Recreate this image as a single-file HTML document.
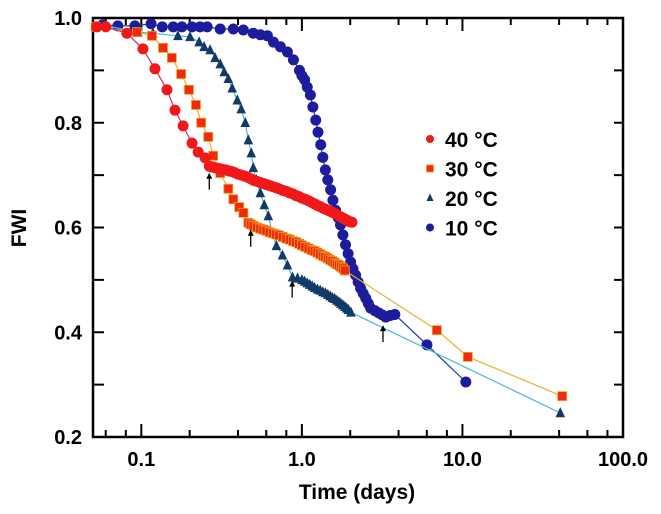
<!DOCTYPE html>
<html><head><meta charset="utf-8"><style>
body{margin:0;background:#fff}
svg{display:block}
text{font-family:"Liberation Sans",Arial,sans-serif;fill:#000}
</style></head><body>
<svg id="chart" width="661" height="514" xmlns="http://www.w3.org/2000/svg"></svg>
<script>
const xMin=0.05,xMax=100,yMin=0.2,yMax=1.0;
const yTicks=[0.2,0.4,0.6,0.8,1.0];
const yTickLabels=["0.2","0.4","0.6","0.8","1.0"];
const xMajor=[0.1,1,10,100];
const xTickLabels=["0.1","1.0","10.0","100.0"];
const x40=[0.0528,0.0601,0.0813,0.1023,0.1216,0.1445,0.162,0.182,0.207,0.226,0.2497,0.265,0.273,0.28,0.29,0.30,0.31,0.32,0.335,0.35,0.365,0.38,0.40,0.42,0.44,0.46,0.48,0.50,0.525,0.55,0.575,0.60,0.63,0.66,0.69,0.72,0.76,0.80,0.84,0.88,0.92,0.96,1.0,1.05,1.10,1.15,1.20,1.25,1.30,1.35,1.40,1.45,1.50,1.55,1.60,1.65,1.70,1.75,1.80,1.85,1.90,1.95,2.0,2.05];
const y40=[0.983,0.983,0.971,0.941,0.903,0.863,0.824,0.794,0.761,0.744,0.733,0.717,0.716,0.715,0.714,0.713,0.712,0.711,0.710,0.708,0.707,0.705,0.702,0.700,0.698,0.696,0.693,0.690,0.688,0.686,0.684,0.682,0.680,0.678,0.676,0.674,0.671,0.669,0.666,0.664,0.661,0.659,0.656,0.654,0.651,0.648,0.645,0.642,0.640,0.637,0.635,0.633,0.631,0.629,0.627,0.625,0.622,0.620,0.618,0.616,0.614,0.612,0.611,0.610];
const x30=[0.052,0.0939,0.1165,0.1365,0.155,0.177,0.198,0.219,0.236,0.261,0.28,0.31,0.348,0.374,0.407,0.432,0.464,0.48,0.50,0.525,0.55,0.575,0.60,0.63,0.66,0.69,0.72,0.76,0.80,0.84,0.88,0.92,0.96,1.0,1.05,1.10,1.15,1.20,1.25,1.30,1.35,1.40,1.45,1.50,1.55,1.60,1.65,1.70,1.75,1.80,1.85,6.93,10.8,41.8];
const y30=[0.983,0.973,0.966,0.943,0.924,0.893,0.863,0.834,0.800,0.773,0.737,0.704,0.674,0.654,0.639,0.628,0.609,0.606,0.603,0.600,0.598,0.596,0.594,0.591,0.589,0.587,0.585,0.582,0.579,0.577,0.574,0.572,0.569,0.566,0.563,0.560,0.557,0.555,0.552,0.549,0.546,0.544,0.541,0.538,0.536,0.533,0.530,0.528,0.525,0.522,0.518,0.404,0.353,0.278];
const x20=[0.0568,0.0953,0.118,0.169,0.201,0.229,0.246,0.268,0.288,0.31,0.328,0.348,0.368,0.396,0.419,0.444,0.464,0.484,0.498,0.52,0.551,0.583,0.618,0.655,0.694,0.757,0.813,0.874,0.939,1.0,1.04,1.08,1.12,1.16,1.20,1.25,1.30,1.35,1.40,1.45,1.50,1.55,1.60,1.65,1.70,1.75,1.80,1.85,1.90,1.95,2.02,40.7];
const y20=[0.987,0.973,0.971,0.966,0.964,0.954,0.945,0.939,0.924,0.912,0.897,0.884,0.866,0.843,0.826,0.800,0.767,0.742,0.714,0.691,0.666,0.643,0.622,0.589,0.565,0.547,0.528,0.505,0.503,0.500,0.497,0.494,0.491,0.488,0.485,0.482,0.480,0.477,0.475,0.472,0.469,0.466,0.464,0.461,0.458,0.455,0.452,0.449,0.446,0.443,0.438,0.246];
const x10=[0.0576,0.0714,0.0912,0.115,0.135,0.158,0.179,0.207,0.232,0.257,0.31,0.374,0.432,0.498,0.551,0.61,0.665,0.735,0.813,0.886,0.966,1.0,1.04,1.08,1.13,1.17,1.22,1.26,1.31,1.35,1.40,1.45,1.51,1.56,1.62,1.68,1.74,1.80,1.87,1.94,2.01,2.08,2.16,2.24,2.32,2.41,2.50,2.59,2.68,2.85,3.01,3.17,3.33,3.55,3.79,6.01,10.5];
const y10=[0.987,0.985,0.985,0.989,0.983,0.983,0.983,0.983,0.983,0.983,0.979,0.979,0.977,0.971,0.968,0.966,0.954,0.945,0.935,0.920,0.900,0.890,0.882,0.868,0.853,0.830,0.805,0.782,0.758,0.734,0.710,0.691,0.672,0.652,0.633,0.619,0.605,0.586,0.567,0.550,0.534,0.521,0.509,0.496,0.484,0.474,0.465,0.455,0.446,0.441,0.437,0.433,0.429,0.432,0.434,0.376,0.305];
const arrowX=[0.265,0.48,0.87,3.2];
const arrowY=[0.718,0.609,0.512,0.427];

const L=93,R=623,T=18,B=437;
const sx=v=>L+(Math.log10(v)-Math.log10(xMin))/(Math.log10(xMax)-Math.log10(xMin))*(R-L);
const sy=v=>B-(v-yMin)/(yMax-yMin)*(B-T);
const svg=document.getElementById('chart');
const NS="http://www.w3.org/2000/svg";
function mk(tag,attrs,parent){const e=document.createElementNS(NS,tag);for(const k in attrs)e.setAttribute(k,attrs[k]);(parent||svg).appendChild(e);return e;}

const frame=mk('rect',{x:L,y:T,width:R-L,height:B-T,fill:'none',stroke:'#000','stroke-width':2.5});



yTicks.forEach((v,i)=>{
  const y=sy(v);
  const t=mk('line',{x1:L,x2:L+11,y1:y,y2:y,stroke:'#000','stroke-width':2});
  
  
  const t2=mk('line',{x1:R-9,x2:R,y1:y,y2:y,stroke:'#000','stroke-width':2});
  
  
  const lb=mk('text',{x:L-11,y:y+7,'text-anchor':'end','font-size':20,'font-weight':'bold'});
  lb.textContent=yTickLabels[i];
  
  
});
[0.3,0.5,0.7,0.9].forEach(v=>{
  const y=sy(v);
  const t=mk('line',{x1:L,x2:L+11,y1:y,y2:y,stroke:'#000','stroke-width':2});
  
  
  const t2=mk('line',{x1:R-9,x2:R,y1:y,y2:y,stroke:'#000','stroke-width':2});
  
  
});
const minors=[];
[0.01,0.1,1,10].forEach(d=>[2,4,6,8].forEach(m=>{const v=d*m;if(v>xMin&&v<xMax)minors.push(v);}));
minors.forEach(v=>{
  const x=sx(v);
  const a=mk('line',{x1:x,x2:x,y1:B,y2:B-7,stroke:'#000','stroke-width':2});
  
  
  const b=mk('line',{x1:x,x2:x,y1:T,y2:T+7,stroke:'#000','stroke-width':2});
  
  
});
xMajor.forEach((v,i)=>{
  const x=sx(v);
  const a=mk('line',{x1:x,x2:x,y1:B,y2:B-13,stroke:'#000','stroke-width':2});
  
  
  const b=mk('line',{x1:x,x2:x,y1:T,y2:T+13,stroke:'#000','stroke-width':2});
  
  
  const lb=mk('text',{x:x,y:B+29,'text-anchor':'middle','font-size':20,'font-weight':'bold'});
  lb.textContent=xTickLabels[i];
  
  
});
const xt=mk('text',{x:357,y:499,'text-anchor':'middle','font-size':21,'font-weight':'bold'});
xt.textContent='Time (days)';


const yt=mk('text',{x:0,y:0,'text-anchor':'middle','font-size':21,'font-weight':'bold',transform:'translate(26,228) rotate(-90)'});
yt.textContent='FWI';



function marker(kind,cx,cy,fill,r,parent){
  let e;
  if(kind==='circle')e=mk('circle',{cx:cx,cy:cy,r:r,fill:fill},parent);
  else if(kind==='square')e=mk('rect',{x:cx-r,y:cy-r,width:2*r,height:2*r,fill:fill,stroke:'#f0a020','stroke-width':0.8},parent);
  else e=mk('polygon',{points:`${cx},${cy-r-1} ${cx-r},${cy+r-0.5} ${cx+r},${cy+r-0.5}`,fill:fill},parent);
  return e;
}
function series(name,xs,ys,kind,fill,line,r){
  const g=mk('g',{});
  
  
  const pl=mk('polyline',{points:xs.map((v,i)=>sx(v)+','+sy(ys[i])).join(' '),fill:'none',stroke:line,'stroke-width':1.2},g);
  
  
  xs.forEach((v,i)=>{
    const m=marker(kind,sx(v),sy(ys[i]),fill,r,g);
    
    
  });
}
series('10c',x10,y10,'circle','#1c1c9c','#1c3c9c',5.5);
series('20c',x20,y20,'tri','#123a66','#4ab8e0',4.8);
series('30c',x30,y30,'square','#f02a10','#e8b030',4.5);
series('40c',x40,y40,'circle','#f01818','#d0306a',5.5);

arrowX.forEach((v,i)=>{
  const x=sx(v),y=sy(arrowY[i])+7;
  const g=mk('g',{});
  
  
  mk('line',{x1:x,x2:x,y1:y+3,y2:y+17,stroke:'#000','stroke-width':1.3},g);
  mk('polygon',{points:`${x},${y} ${x-3},${y+6} ${x+3},${y+6}`,fill:'#000'},g);
});

const leg=[['40 °C','circle','#f01818'],['30 °C','square','#f02a10'],['20 °C','tri','#123a66'],['10 °C','circle','#1c1c9c']];
leg.forEach((l,i)=>{
  const y=139+i*29.5;
  const g=mk('g',{});
  
  
  marker(l[1],430,y,l[2],l[1]==='circle'?4:3.5,g);
  const t=mk('text',{x:445,y:y+8,'font-size':21,'font-weight':'bold'},g);
  t.textContent=l[0];
});
</script>
</body></html>
